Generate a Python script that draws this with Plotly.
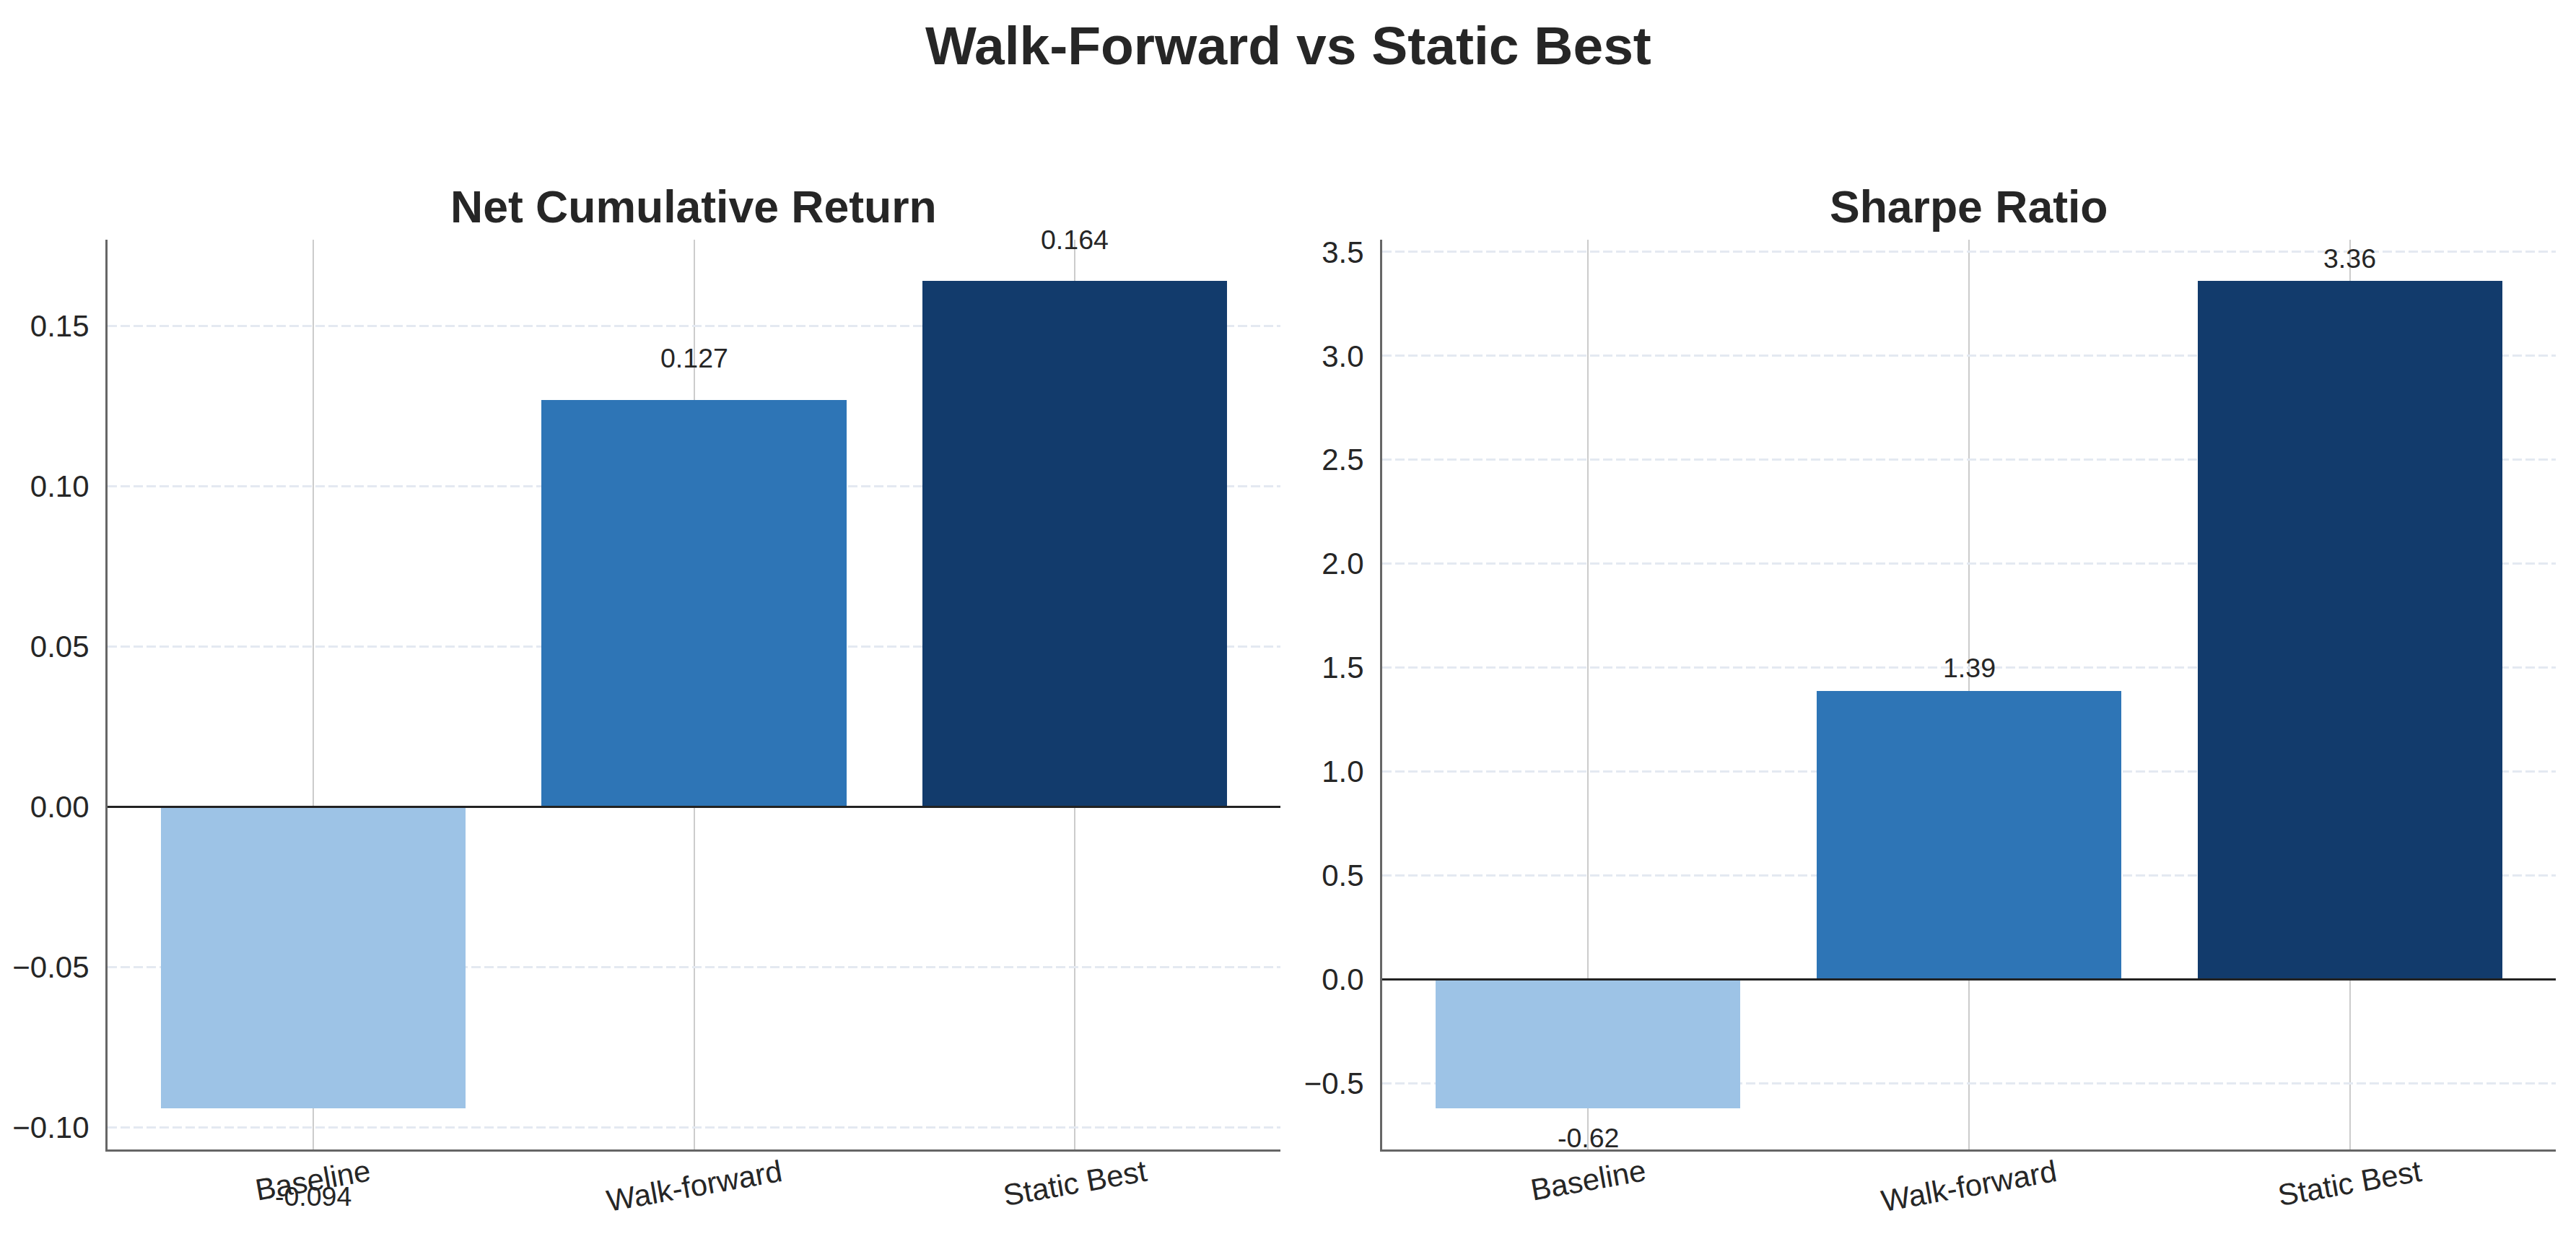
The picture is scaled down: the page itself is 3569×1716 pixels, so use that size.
import plotly.graph_objects as go

# ---- data ----
categories = ["Baseline", "Walk-forward", "Static Best"]
net_cum_return = [-0.094, 0.127, 0.164]
sharpe_ratio = [-0.62, 1.39, 3.36]
bar_colors = ["#9DC3E6", "#2E75B6", "#123B6C"]
panel_titles = ["Net Cumulative Return", "Sharpe Ratio"]
main_title = "Walk-Forward vs Static Best"
value_formats = ["{:.3f}", "{:.2f}"]
tick_formats = [".2f", ".1f"]
tick_steps = [0.05, 0.5]

W, H = 3569, 1716
FONT = "Liberation Sans, Arial, Helvetica, sans-serif"
TXT = "#262626"

x_domains = [[149 / W, 1774 / W], [1915 / W, 3541 / W]]
y_domain = [(H - 1592) / H, (H - 327) / H]
label_shift = [(57, -122), (31, -41)]

fig = go.Figure()
xs = list(range(len(categories)))
annotations = []
shapes = []

for p, (vals, fmt) in enumerate(zip([net_cum_return, sharpe_ratio], value_formats)):
    xa = "x" if p == 0 else "x2"
    ya = "y" if p == 0 else "y2"
    fig.add_trace(go.Bar(
        x=xs, y=vals, width=0.8, marker=dict(color=bar_colors, line=dict(width=0)),
        xaxis=xa, yaxis=ya, showlegend=False, hoverinfo="skip",
    ))
    lo = min(0, min(vals)); hi = max(0, max(vals)); pad = 0.05 * (hi - lo)
    n = len(categories)
    xpad = 0.05 * ((n - 1) + 0.8)
    axis_x = dict(
        domain=x_domains[p], range=[-0.4 - xpad, (n - 1) + 0.4 + xpad],
        tickvals=xs, showticklabels=False, ticks="",
        showgrid=True, gridcolor="#CCCCCC", gridwidth=2,
        zeroline=False, showline=True, linecolor="#666666", linewidth=3,
        anchor=ya, fixedrange=True,
    )
    axis_y = dict(
        domain=y_domain, range=[lo - pad, hi + pad], dtick=tick_steps[p], tick0=0,
        tickformat=tick_formats[p], ticks="", ticklabelstandoff=14,
        tickfont=dict(family=FONT, size=42, color=TXT),
        showgrid=True, gridcolor="#E4E9F1", gridwidth=3, griddash="13px,5px",
        zeroline=False, showline=True, linecolor="#666666", linewidth=3,
        anchor=xa, fixedrange=True,
    )
    if p == 0:
        fig.update_layout(xaxis=axis_x, yaxis=axis_y)
    else:
        fig.update_layout(xaxis2=axis_x, yaxis2=axis_y)

    # zero line
    shapes.append(dict(type="line", xref=f"{xa} domain", yref=ya, x0=0, x1=1, y0=0, y1=0,
                       line=dict(color="#222222", width=3), layer="above"))

    # value labels
    for i, v in enumerate(vals):
        annotations.append(dict(
            x=i, y=v, xref=xa, yref=ya, text=fmt.format(v), showarrow=False,
            xanchor="center", yanchor="middle",
            yshift=label_shift[p][0] if v >= 0 else label_shift[p][1],
            font=dict(family=FONT, size=37.5, color=TXT),
        ))
    # category labels
    for i, c in enumerate(categories):
        annotations.append(dict(
            x=i, y=0, xref=xa, yref=f"{ya} domain", text=c, showarrow=False,
            xanchor="center", yanchor="top", textangle=-10, yshift=-3,
            font=dict(family=FONT, size=42, color=TXT),
        ))
    # panel title
    annotations.append(dict(
        x=sum(x_domains[p]) / 2, y=1 - 281 / H, xref="paper", yref="paper",
        text=f"<b>{panel_titles[p]}</b>", showarrow=False,
        xanchor="center", yanchor="middle",
        font=dict(family=FONT, size=62.5, color=TXT),
    ))

annotations.append(dict(
    x=0.5, y=1 - 57 / H, xref="paper", yref="paper", text=f"<b>{main_title}</b>",
    showarrow=False, xanchor="center", yanchor="middle",
    font=dict(family=FONT, size=75, color=TXT),
))

fig.update_layout(
    width=W, height=H, autosize=False,
    margin=dict(l=0, r=0, t=0, b=0),
    paper_bgcolor="white", plot_bgcolor="white",
    bargap=0, annotations=annotations, shapes=shapes,
    font=dict(family=FONT, color=TXT),
)

fig.write_html("out.html", config={"displayModeBar": False})
